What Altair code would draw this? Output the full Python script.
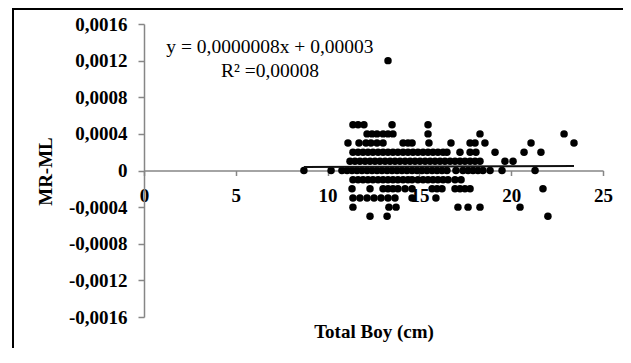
import altair as alt
import pandas as pd

# ---- data (x = Total Boy (cm), grouped by MR-ML level) ----
y_levels = [0.0012, 0.0005, 0.0004, 0.0003, 0.0002, 0.0001, 0.0,
            -0.0001, -0.0002, -0.0003, -0.0004, -0.0005]

x_p12 = [13.29]
x_p5 = [11.38, 11.66, 11.98, 13.51, 15.47]
x_p4 = [12.15, 12.42, 12.69, 13.02, 13.29, 13.56, 15.47, 18.30, 22.88]
x_p3 = [11.11, 11.71, 12.09, 12.36, 12.69, 13.02, 14.11, 14.38, 14.60, 15.52,
        16.72, 17.76, 18.03, 18.57, 21.08, 23.42]
x_p2 = [11.38, 11.66, 11.93, 12.20, 12.47, 12.75, 13.02, 13.29, 13.56, 13.83,
        14.11, 14.38, 14.65, 14.92, 15.20, 15.47, 15.74, 16.01, 16.29, 16.50,
        17.21, 17.76, 18.08, 19.12, 20.70, 21.62]
x_p1 = [11.22, 11.49, 11.76, 12.04, 12.31, 12.58, 12.85, 13.13, 13.40, 13.67,
        13.94, 14.22, 14.49, 14.76, 15.03, 15.31, 15.58, 15.85, 16.12, 16.39,
        16.67, 16.94, 17.21, 17.48, 17.76, 18.03, 18.30, 19.66, 20.10]
x_0 = [8.71, 10.19, 10.78, 11.06, 11.33, 11.60, 11.87, 12.15, 12.42, 12.69,
       12.96, 13.24, 13.51, 13.78, 14.05, 14.32, 14.60, 14.87, 15.14, 15.41,
       15.69, 15.96, 16.23, 16.50, 16.99, 17.37, 17.65, 17.92, 18.19, 18.46,
       18.85, 19.50, 21.30]
x_m1 = [11.38, 11.66, 11.93, 12.20, 12.47, 12.75, 13.02, 13.29, 13.56, 13.83,
        14.11, 14.38, 14.60, 14.92, 15.20, 15.47, 15.74, 16.01, 16.29, 16.56,
        16.94, 17.27]
x_m2 = [11.33, 12.31, 13.02, 13.29, 13.56, 13.83, 14.22, 14.60, 15.69, 15.96,
        16.23, 16.94, 17.21, 17.48, 17.76, 21.73]
x_m3 = [11.38, 11.76, 12.15, 12.53, 12.91, 13.29, 13.67, 14.60, 15.90]
x_m4 = [11.38, 13.34, 13.73, 17.10, 17.65, 18.30, 20.48]
x_m5 = [12.31, 13.24, 22.00]

x_groups = [x_p12, x_p5, x_p4, x_p3, x_p2, x_p1, x_0,
            x_m1, x_m2, x_m3, x_m4, x_m5]

# trend line (as printed on the chart)
slope = 0.0000008
intercept = 0.00003
trend_x = [8.71, 23.42]

eq_text = ["y = 0,0000008x  + 0,00003", "R² =0,00008"]
eq_x = [6.86, 6.86]
eq_y = [0.001349, 0.001087]

x_ticks = [0, 5, 10, 15, 20, 25]
y_ticks = [-0.0016, -0.0012, -0.0008, -0.0004, 0, 0.0004, 0.0008, 0.0012, 0.0016]

# ---- tables ----
rows = []
for yv, xs in zip(y_levels, x_groups):
    for xv in xs:
        rows.append({"x": xv, "y": yv})
pts = pd.DataFrame(rows)
trend = pd.DataFrame({"x": trend_x, "y": [slope * v + intercept for v in trend_x]})
eq = pd.DataFrame({"t": eq_text, "x": eq_x, "y": eq_y})
frame_df = pd.DataFrame({"k": [0]})

W, H = 459, 293
PAD_R, PAD_B = 20, 31
FONT = "Liberation Serif"

xscale = alt.Scale(domain=[0, 25], nice=False, zero=False)
yscale = alt.Scale(domain=[-0.0016, 0.0016], nice=False)

x_axis = alt.Axis(
    values=x_ticks, format="d", offset=-H / 2, grid=False,
    domainColor="#868686", domainWidth=1.5, tickColor="#868686", tickWidth=1.5,
    tickSize=5, labelFont=FONT, labelFontWeight="bold", labelFontSize=19,
    labelColor="black", labelPadding=11, labelFlush=False, labelOverlap=False,
    title="Total Boy (cm)", titleFont=FONT, titleFontSize=19, titleFontWeight="bold",
    titleColor="black", titleY=161, titleBaseline="middle",
)
y_axis = alt.Axis(
    values=y_ticks, grid=False,
    labelExpr="datum.value == 0 ? '0' : (datum.value < 0 ? '-' : '') + replace(format(abs(datum.value), '.4f'), '.', ',')",
    domainColor="#868686", domainWidth=1.5, tickColor="#868686", tickWidth=1.5,
    tickSize=6, labelFont=FONT, labelFontWeight="bold", labelFontSize=19,
    labelColor="black", labelPadding=11, labelFlush=False, labelOverlap=False,
    title="MR-ML", titleFont=FONT, titleFontSize=19, titleFontWeight="bold",
    titleColor="black", titleAngle=270, titleX=-99, titleY=147,
    titleAlign="center", titleBaseline="middle",
)

# cropped outer frame of the original figure (top and left edges only)
frame_top = alt.Chart(frame_df).mark_rule(color="black", strokeWidth=2).encode(
    x=alt.value(-131), x2=alt.value(W + PAD_R), y=alt.value(-15),
)
frame_left = alt.Chart(frame_df).mark_rule(color="black", strokeWidth=2).encode(
    x=alt.value(-131), y=alt.value(-16), y2=alt.value(H + PAD_B),
)

points = alt.Chart(pts).mark_circle(color="black", opacity=1, size=56).encode(
    x=alt.X("x:Q", scale=xscale, axis=x_axis),
    y=alt.Y("y:Q", scale=yscale, axis=y_axis),
)

line = alt.Chart(trend).mark_line(color="#111111", strokeWidth=2).encode(
    x=alt.X("x:Q", scale=xscale, axis=x_axis),
    y=alt.Y("y:Q", scale=yscale, axis=y_axis),
)

text = alt.Chart(eq).mark_text(
    font=FONT, fontSize=19.5, color="black", align="center", baseline="middle"
).encode(
    x=alt.X("x:Q", scale=xscale, axis=x_axis),
    y=alt.Y("y:Q", scale=yscale, axis=y_axis),
    text="t:N",
)

chart = alt.layer(points, line, text, frame_top, frame_left).properties(
    width=W, height=H,
    padding={"left": 136, "top": 16, "right": PAD_R, "bottom": PAD_B},
    autosize=alt.AutoSizeParams(type="none"),
    background="white",
).configure_view(stroke=None).configure_axis(labelOverlap=False)

chart.save("out.html", embed_options={"renderer": "svg", "actions": False})
